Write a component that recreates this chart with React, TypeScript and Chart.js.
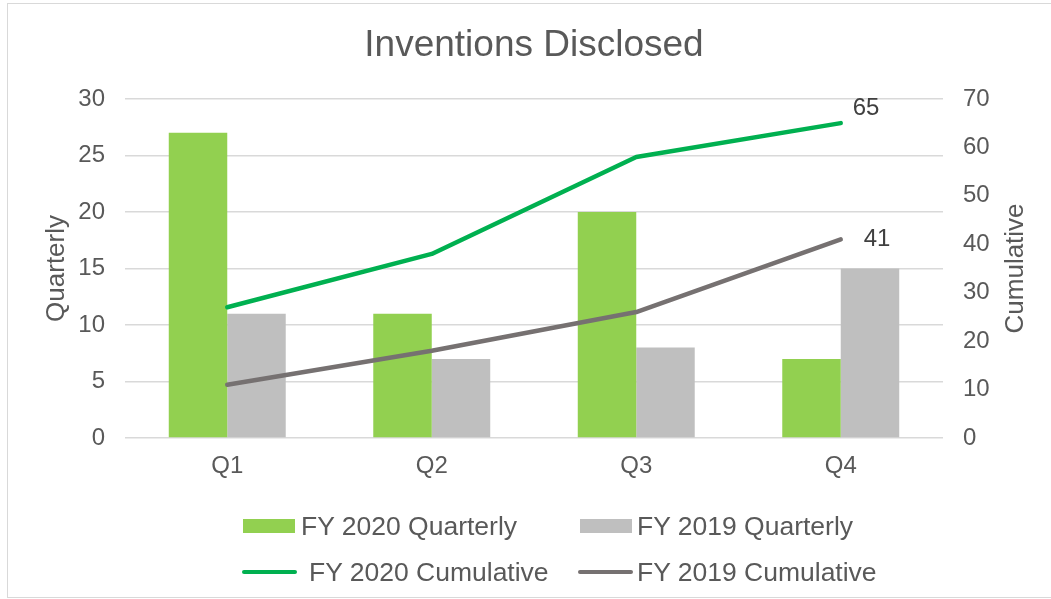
import React, { useEffect, useRef } from "react";
import { Chart, registerables } from "chart.js";

Chart.register(...registerables);

const FONT = "'Liberation Sans', Arial, sans-serif";

const categories = ["Q1", "Q2", "Q3", "Q4"];
const fy2020Quarterly = [27, 11, 20, 7];
const fy2019Quarterly = [11, 7, 8, 15];
const fy2020Cumulative = [27, 38, 58, 65];
const fy2019Cumulative = [11, 18, 26, 41];
const seriesNames = [
  "FY 2020 Quarterly",
  "FY 2019 Quarterly",
  "FY 2020 Cumulative",
  "FY 2019 Cumulative",
];
const seriesColors = ["#92D050", "#BFBFBF", "#00B050", "#767171"];
const quarterlyTicks = [0, 5, 10, 15, 20, 25, 30];
const cumulativeTicks = [0, 10, 20, 30, 40, 50, 60, 70];
const chartTitle = "Inventions Disclosed";
const leftAxisTitle = "Quarterly";
const rightAxisTitle = "Cumulative";

const extrasPlugin = {
  id: "extras",
  afterDraw(chart: any) {
    const { ctx, chartArea } = chart;
    const midY = (chartArea.top + chartArea.bottom) / 2;
    ctx.save();
    ctx.font = `26px ${FONT}`;
    ctx.fillStyle = "#595959";
    ctx.textAlign = "center";
    ctx.textBaseline = "middle";
    // left axis title
    ctx.save();
    ctx.translate(chartArea.left - 68, midY);
    ctx.rotate(-Math.PI / 2);
    ctx.fillText(leftAxisTitle, 0, 0);
    ctx.restore();
    // right axis title (reads bottom to top)
    ctx.save();
    ctx.translate(chartArea.right + 73, midY);
    ctx.rotate(-Math.PI / 2);
    ctx.fillText(rightAxisTitle, 0, 0);
    ctx.restore();

    // data labels on last cumulative points
    ctx.font = `24px ${FONT}`;
    ctx.fillStyle = "#404040";
    ctx.textAlign = "left";
    const offsets = [
      { ds: 2, dx: 12, dy: -15 },
      { ds: 3, dx: 23, dy: 0 },
    ];
    offsets.forEach(({ ds, dx, dy }) => {
      const meta = chart.getDatasetMeta(ds);
      const data = chart.data.datasets[ds].data as number[];
      const last = meta.data[meta.data.length - 1];
      if (!last) return;
      ctx.fillText(String(data[data.length - 1]), last.x + dx, last.y + dy);
    });
    ctx.restore();
  },
};

export default function App() {
  const canvasRef = useRef<HTMLCanvasElement | null>(null);

  useEffect(() => {
    if (!canvasRef.current) return;
    const chart = new Chart(canvasRef.current, {
      type: "bar",
      data: {
        labels: categories,
        datasets: [
          {
            type: "bar",
            label: seriesNames[0],
            data: fy2020Quarterly,
            backgroundColor: seriesColors[0],
            yAxisID: "y",
            categoryPercentage: 0.572,
            barPercentage: 1,
            order: 2,
          },
          {
            type: "bar",
            label: seriesNames[1],
            data: fy2019Quarterly,
            backgroundColor: seriesColors[1],
            yAxisID: "y",
            categoryPercentage: 0.572,
            barPercentage: 1,
            order: 2,
          },
          {
            type: "line",
            label: seriesNames[2],
            data: fy2020Cumulative,
            borderColor: seriesColors[2],
            backgroundColor: seriesColors[2],
            borderWidth: 4.5,
            borderCapStyle: "round",
            borderJoinStyle: "round",
            pointRadius: 0,
            yAxisID: "y1",
            order: 1,
          },
          {
            type: "line",
            label: seriesNames[3],
            data: fy2019Cumulative,
            borderColor: seriesColors[3],
            backgroundColor: seriesColors[3],
            borderWidth: 4.5,
            borderCapStyle: "round",
            borderJoinStyle: "round",
            pointRadius: 0,
            yAxisID: "y1",
            order: 1,
          },
        ] as any,
      },
      options: {
        responsive: false,
        animation: false,
        layout: { padding: { left: 17, right: 0, top: 0, bottom: 111 } },
        plugins: {
          legend: { display: false },
          tooltip: { enabled: false },
          title: {
            display: true,
            text: chartTitle,
            color: "#595959",
            font: { family: FONT, size: 37, weight: "normal" },
            padding: { top: 23.5, bottom: 31 },
          },
        },
        scales: {
          x: {
            grid: { display: false },
            border: { display: false },
            ticks: {
              color: "#595959",
              font: { family: FONT, size: 24 },
              padding: 6,
            },
            afterFit(scale: any) {
              scale.height = 50;
            },
          },
          y: {
            position: "left",
            min: 0,
            max: 30,
            afterBuildTicks(scale: any) {
              scale.ticks = quarterlyTicks.map((v) => ({ value: v }));
            },
            grid: {
              color: "#D9D9D9",
              lineWidth: 1.5,
              drawTicks: false,
            },
            border: { display: false },
            ticks: {
              color: "#595959",
              font: { family: FONT, size: 24 },
              padding: 20,
            },
            afterFit(scale: any) {
              scale.width = 108;
            },
          },
          y1: {
            position: "right",
            min: 0,
            max: 70,
            afterBuildTicks(scale: any) {
              scale.ticks = cumulativeTicks.map((v) => ({ value: v }));
            },
            grid: { display: false, drawTicks: false },
            border: { display: false },
            ticks: {
              color: "#595959",
              font: { family: FONT, size: 24 },
              padding: 20,
            },
            afterFit(scale: any) {
              scale.width = 108;
            },
          },
        },
      } as any,
      plugins: [extrasPlugin],
    });
    return () => chart.destroy();
  }, []);

  const legendItems = [
    { i: 0, kind: "box", x: 243, cy: 526, gap: 6 },
    { i: 1, kind: "box", x: 580, cy: 526, gap: 5 },
    { i: 2, kind: "line", x: 242, cy: 572, gap: 12 },
    { i: 3, kind: "line", x: 578, cy: 572, gap: 4 },
  ];

  return (
    <div style={{ position: "fixed", left: 0, top: 0, width: 1051, height: 599, background: "#fff", overflow: "hidden" }}>
      <div
        style={{
          position: "absolute",
          left: 7,
          top: 3,
          width: 1080,
          height: 595,
          border: "1px solid #D9D9D9",
          boxSizing: "border-box",
        }}
      />
      <canvas
        ref={canvasRef}
        width={1051}
        height={599}
        style={{ position: "absolute", left: 0, top: 0, width: 1051, height: 599 }}
      />
      {legendItems.map((it) => (
        <div
          key={it.i}
          style={{
            position: "absolute",
            left: it.x,
            top: it.cy - 16,
            height: 32,
            display: "flex",
            alignItems: "center",
            fontFamily: FONT,
            fontSize: 26.5,
            color: "#595959",
            whiteSpace: "nowrap",
          }}
        >
          {it.kind === "box" ? (
            <span style={{ display: "inline-block", width: 52, height: 14, background: seriesColors[it.i] }} />
          ) : (
            <span
              style={{
                display: "inline-block",
                width: 55,
                height: 4.5,
                borderRadius: 3,
                background: seriesColors[it.i],
              }}
            />
          )}
          <span style={{ marginLeft: it.gap, lineHeight: "32px" }}>{seriesNames[it.i]}</span>
        </div>
      ))}
    </div>
  );
}
